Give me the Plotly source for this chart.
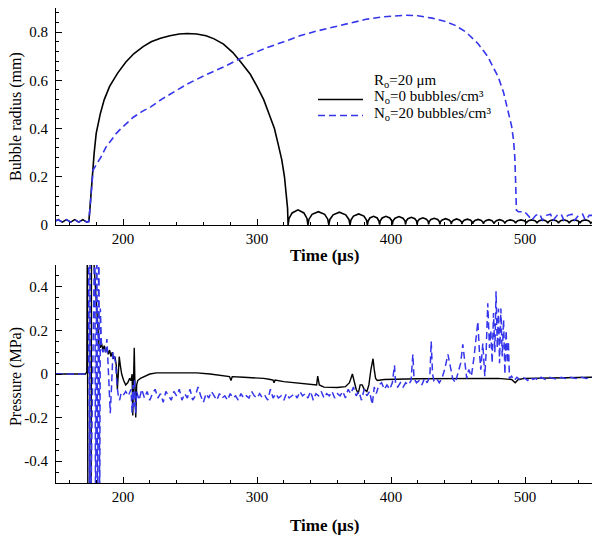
import plotly.graph_objects as go

# ---------------- data ----------------
# Top panel: bubble radius (mm) vs time (us)
t_radius_black = [
    150, 151.6, 154.7, 157.8, 160.9, 164, 167, 170, 173, 174.5,
    175.2, 176, 177, 178.5, 180, 183, 186, 190, 196, 202,
    208, 215, 221, 228, 235, 242, 248, 255, 262, 268,
    275, 282, 288, 295, 300, 305, 309, 313, 316, 318.5,
    320.5, 322, 322.8, 323.2,
    323.9, 326.2, 330.6, 335, 337.3, 338,
    338.8, 341.1, 345.8, 350.5, 352.8, 353.6,
    354.4, 356.8, 361.5, 366.2, 368.6, 369.4,
    370.1, 372, 375.9, 379.8, 381.7, 382.4,
    382.9, 384.2, 387, 389.7, 391, 391.5,
    392, 393.4, 396.2, 399.1, 400.5, 401,
    401.5, 403, 406, 408.9, 410.4, 410.9,
    411.3, 412.6, 415.2, 417.8, 419.1, 419.5,
    419.9, 421.2, 423.8, 426.4, 427.7, 428.1,
    428.5, 429.8, 432.3, 434.8, 436.1, 436.5,
    436.9, 438.2, 440.8, 443.3, 444.6, 445,
    445.4, 446.6, 449, 451.4, 452.6, 453,
    453.4, 454.6, 457, 459.4, 460.6, 461,
    461.4, 462.6, 465, 467.4, 468.6, 469,
    469.4, 470.6, 473, 475.4, 476.6, 477,
    477.4, 478.6, 481, 483.4, 484.6, 485,
    485.4, 486.6, 489, 491.4, 492.6, 493,
    493.4, 494.6, 497, 499.4, 500.6, 501,
    501.4, 502.6, 505, 507.4, 508.6, 509,
    509.4, 510.6, 513, 515.4, 516.6, 517,
    517.4, 518.6, 521, 523.4, 524.6, 525,
    525.4, 526.6, 529, 531.4, 532.6, 533,
    533.4, 534.6, 537, 539.4, 540.6, 541,
    541.4, 542.6, 545, 547.4, 548.6, 549, 550,
]
radius_black = [
    .017, .022, .012, .022, .012, .022, .012, .022, .012, .015,
    .06, .13, .2, .3, .38, .46, .52, .575, .63, .675,
    .71, .74, .76, .775, .785, .792, .794, .792, .785, .772,
    .75, .715, .675, .625, .575, .52, .46, .4, .33, .27,
    .2, .13, .07, 0,
    .027, .05, .063, .05, .027, 0,
    .024, .044, .055, .044, .024, 0,
    .023, .042, .053, .042, .023, 0,
    .02, .037, .046, .037, .02, 0,
    .016, .029, .036, .029, .016, .002,
    .017, .029, .036, .029, .017, .002,
    .017, .028, .035, .028, .017, .002,
    .016, .026, .032, .026, .016, .002,
    .015, .024, .03, .024, .015, .003,
    .014, .023, .028, .023, .014, .003,
    .014, .021, .026, .021, .014, .004,
    .013, .02, .025, .02, .013, .004,
    .013, .02, .024, .02, .013, .005,
    .012, .019, .023, .019, .012, .005,
    .012, .018, .022, .018, .012, .006,
    .012, .018, .022, .018, .012, .006,
    .012, .018, .021, .018, .012, .007,
    .012, .018, .021, .018, .012, .007,
    .012, .018, .021, .018, .012, .007,
    .012, .018, .021, .018, .012, .007,
    .012, .018, .021, .018, .012, .007,
    .012, .018, .021, .018, .012, .007,
    .012, .018, .021, .018, .012, .007,
    .012, .018, .021, .018, .012, .007, .012,
]

t_radius_blue = [
    150, 151.6, 154.7, 157.8, 160.9, 164, 167, 170, 173, 174.5,
    175.5, 176.5, 177.7, 180, 183.7, 187, 191, 195, 198.5, 203,
    207.7, 214, 220.7, 229, 237.8, 248, 262.7, 275, 285.5, 296,
    307, 320, 332, 345, 356.5, 368, 381.3, 395, 410.9, 420,
    430.6, 440, 447.9, 456, 465, 472, 480, 484, 487.4, 490,
    491.5, 492.4, 493, 493.6, 495, 499.8, 503, 505, 508, 511,
    513, 516, 519, 521, 524, 527, 529, 532, 535, 537,
    540, 543, 545, 548, 550,
]
radius_blue = [
    .017, .022, .012, .022, .012, .022, .012, .022, .012, .014,
    .08, .16, .228, .25, .283, .32, .352, .38, .40, .425,
    .447, .47, .49, .522, .552, .585, .625, .655, .685, .71,
    .735, .76, .785, .805, .82, .837, .853, .864, .87, .868,
    .858, .845, .828, .8, .752, .7, .614, .55, .476, .41,
    .35, .28, .18, .062, .055, .055, .035, .02, .04, .045,
    .02, .04, .045, .02, .04, .045, .02, .04, .045, .02,
    .04, .045, .02, .04, .04,
]

# Bottom panel: pressure (MPa) vs time (us)
t_pressure_black = [
    150, 172, 173, 173.4, 173.8, 176.2, 176.5, 177.2, 178.6, 180.3,
    181.2, 182, 183, 184, 185, 186, 187, 188, 189, 190,
    191, 192, 193, 194, 195, 195.8, 196.5, 197.2, 198, 199,
    200.5, 202, 203.5, 205, 206, 206.8, 207.3, 207.8, 208.4, 208.9,
    209.5, 210.2, 211, 213, 216, 220, 225, 240, 255, 265,
    275, 279.5, 280.6, 281.5, 290, 300, 305, 310, 312, 312.7,
    313.5, 320, 330, 340, 344.5, 345.3, 346.5, 350, 360, 366,
    369, 371.2, 372.5, 374, 375.5, 377, 378.5, 380, 382, 383.5,
    385, 386.6, 387.5, 388.5, 389.8, 395, 420, 450, 480, 490,
    492.7, 495, 500, 520, 550,
]
pressure_black = [
    0, 0, .01, .7, -.7, -.7, .7, .7, .48, .3,
    .18, .14, .12, .14, .11, .13, .1, .12, .09, .11,
    .08, .1, .07, .08, .04, -.07, 0, .08, .04, 0,
    -.03, -.05, -.04, -.02, -.03, 0, -.19, .02, .12, -.05,
    -.2, -.05, -.03, -.02, -.01, 0, .005, .006, .005, 0,
    -.008, -.012, -.03, -.012, -.015, -.018, -.02, -.025, -.028, -.04,
    -.028, -.035, -.042, -.05, -.05, -.01, -.05, -.06, -.062, -.058,
    -.04, 0, -.04, -.07, -.09, -.05, -.05, -.07, -.08, -.05,
    .02, .07, .02, -.02, -.03, -.025, -.022, -.02, -.02, -.025,
    -.04, -.025, -.02, -.018, -.015,
]

t_pressure_blue = [
    150, 172, 174.3, 174.5, 175, 175.4, 175.8, 179, 179.5, 180.5,
    181, 182, 182.6, 183.1, 184, 185, 186, 187, 188, 189.2,
    190.5, 191.5, 192.5, 193.5, 194.5, 195.5, 196.5, 197.5, 198.5, 200,
    202, 204, 206, 206.8, 207.5, 208, 208.6, 209.4, 210.2, 212,
    214, 216, 218, 220, 222, 224, 226, 228, 230, 232,
    234, 236, 238, 240, 242, 244, 246, 248, 250, 252,
    254, 256, 258, 260, 262, 264, 266, 268, 270, 272,
    274, 276, 278, 280, 282, 284, 286, 288, 290, 292,
    294, 296, 298, 300, 302, 304, 306, 308, 310, 312,
    314, 316, 318, 320, 322, 324, 326, 328, 330, 332,
    334, 336, 338, 340, 342, 344, 346, 348, 350, 352,
    354, 356, 358, 360, 362, 364, 366, 368, 370, 372,
    374, 376, 378, 380, 382, 384, 386, 387.5, 389, 391,
    393, 395, 397, 399, 401, 402.6, 403.5, 405, 407, 409,
    411, 413, 415, 416.3, 417.2, 419, 421, 423, 425, 427,
    429, 430, 431, 432, 434, 436, 438, 440, 442.5, 444,
    446, 448, 450, 452, 453.6, 455, 456.5, 458, 460, 462,
    464.8, 466, 467, 468.5, 470, 471, 472.2, 473.5, 474.5, 475.5,
    476.5, 477.5, 478.4, 479.3, 480.2, 481, 482, 483, 484, 485,
    485.9, 486.8, 487.6, 488.4, 490, 492, 494, 496, 498, 500,
    502, 504, 506, 508, 510, 512, 515, 518, 521, 524,
    527, 530, 534, 538, 542, 546, 550,
]
pressure_blue = [
    0, 0, 0, .7, -.7, .7, -.7, .7, -.7, .7,
    -.7, .7, -.7, .3, .12, .1, .12, .1, .16, 0,
    -.18, -.05, .1, .08, .05, -.05, -.1, -.12, -.09, -.1,
    -.08, -.1, -.07, -.18, -.05, -.15, -.02, -.18, -.08, -.12,
    -.07, -.11, -.08, -.12, -.09, -.07, -.11, -.09, -.13, -.08,
    -.1, -.12, -.08, -.1, -.07, -.12, -.09, -.11, -.07, -.12,
    -.1, -.06, -.1, -.13, -.09, -.11, -.08, -.1, -.12, -.09,
    -.11, -.1, -.12, -.09, -.11, -.1, -.12, -.09, -.11, -.1,
    -.11, -.08, -.1, -.11, -.09, -.11, -.1, -.12, -.07, -.11,
    -.09, -.11, -.1, -.12, -.09, -.11, -.1, -.09, -.11, -.08,
    -.1, -.09, -.11, -.08, -.12, -.09, -.1, -.08, -.11, -.09,
    -.1, -.08, -.11, -.09, -.1, -.08, -.11, -.07, -.09, -.06,
    -.1, -.08, -.12, -.07, -.1, -.08, -.14, -.06, -.09, -.05,
    -.04, -.07, -.05, -.07, -.04, .04, -.05, -.06, -.04, -.06,
    -.04, -.05, -.03, .09, -.02, -.04, -.03, -.05, -.02, -.04,
    -.01, .15, 0, -.03, -.02, -.04, -.02, .02, .09, .04,
    -.02, -.04, 0, .05, .136, .06, -.02, .02, -.01, .08,
    .24, .1, .02, .14, -.01, .1, .325, .12, .2, .05,
    .28, .1, .38, .12, .3, .05, .3, .08, .25, 0,
    .2, .05, .15, -.02, -.01, -.03, -.015, -.025, -.015, -.02,
    -.03, -.015, -.025, -.02, -.03, -.015, -.025, -.015, -.02, -.025,
    -.015, -.02, -.015, -.02, -.015, -.02, -.015,
]

x_tick_vals = [200, 300, 400, 500]
x_tick_text = ["200", "300", "400", "500"]
radius_tick_vals = [0, 0.2, 0.4, 0.6, 0.8]
radius_tick_text = ["0", "0.2", "0.4", "0.6", "0.8"]
pressure_tick_vals = [-0.4, -0.2, 0, 0.2, 0.4]
pressure_tick_text = ["-0.4", "-0.2", "0", "0.2", "0.4"]

series_names = ["N<sub>o</sub>=0 bubbles/cm³", "N<sub>o</sub>=20 bubbles/cm³"]
legend_heading = "R<sub>o</sub>=20 μm"

# ---------------- styling ----------------
FONT = "Liberation Serif"
BLUE = "#3535ec"
DASH = "7px,4px"

fig = go.Figure()
fig.add_trace(go.Scatter(x=t_radius_black, y=radius_black, mode="lines",
                         line=dict(color="black", width=1.6),
                         name=series_names[0], xaxis="x", yaxis="y"))
fig.add_trace(go.Scatter(x=t_radius_blue, y=radius_blue, mode="lines",
                         line=dict(color=BLUE, width=1.6, dash=DASH),
                         name=series_names[1], xaxis="x", yaxis="y"))
fig.add_trace(go.Scatter(x=t_pressure_black, y=pressure_black, mode="lines",
                         line=dict(color="black", width=1.4),
                         name=series_names[0], xaxis="x2", yaxis="y2"))
fig.add_trace(go.Scatter(x=t_pressure_blue, y=pressure_blue, mode="lines",
                         line=dict(color=BLUE, width=1.5, dash=DASH),
                         name=series_names[1], xaxis="x2", yaxis="y2"))

axis_common = dict(showline=True, linecolor="black", linewidth=1, mirror=False,
                   ticks="inside", ticklen=6, tickcolor="black", tickwidth=1,
                   showgrid=False, zeroline=False,
                   tickfont=dict(family=FONT, size=15, color="black"))

# page has an 8px body margin, so the figure is 8px smaller than the window
fig.update_layout(
    width=593, height=531,
    margin=dict(l=48, r=9, t=0, b=56),
    paper_bgcolor="white", plot_bgcolor="white",
    font=dict(family=FONT, color="black"),
    showlegend=False,
    xaxis=dict(axis_common, domain=[0, 1], range=[150, 550], anchor="y",
               tickvals=x_tick_vals, ticktext=x_tick_text,
               minor=dict(dtick=20, tick0=0, ticks="inside", ticklen=3, tickcolor="black")),
    yaxis=dict(axis_common, domain=[0.5432, 1], range=[0, 0.9], anchor="x",
               tickvals=radius_tick_vals, ticktext=radius_tick_text, ticklabelstandoff=4,
               minor=dict(dtick=0.04, tick0=0, ticks="inside", ticklen=3, tickcolor="black")),
    xaxis2=dict(axis_common, domain=[0, 1], range=[150, 550], anchor="y2",
                tickvals=x_tick_vals, ticktext=x_tick_text,
                minor=dict(dtick=20, tick0=0, ticks="inside", ticklen=3, tickcolor="black")),
    yaxis2=dict(axis_common, domain=[0, 0.4589], range=[-0.5, 0.5], anchor="x2",
                tickvals=pressure_tick_vals, ticktext=pressure_tick_text, ticklabelstandoff=4,
                minor=dict(dtick=0.05, tick0=0, ticks="inside", ticklen=3, tickcolor="black")),
)

leg_font = dict(family=FONT, size=15, color="black")
annotations = [
    dict(text=legend_heading, x=0.5896, y=0.8455, xref="paper", yref="paper",
         xanchor="left", yanchor="middle", showarrow=False, font=leg_font),
    dict(text=series_names[0], x=0.5896, y=0.8116, xref="paper", yref="paper",
         xanchor="left", yanchor="middle", showarrow=False, font=leg_font),
    dict(text=series_names[1], x=0.5896, y=0.7775, xref="paper", yref="paper",
         xanchor="left", yanchor="middle", showarrow=False, font=leg_font),
    dict(text="<b>Time (μs)</b>", x=0.5, y=0.478, xref="paper", yref="paper",
         xanchor="center", yanchor="middle", showarrow=False,
         font=dict(family=FONT, size=17, color="black")),
    dict(text="<b>Time (μs)</b>", x=0.5, y=-0.0905, xref="paper", yref="paper",
         xanchor="center", yanchor="middle", showarrow=False,
         font=dict(family=FONT, size=17, color="black")),
    dict(text="Bubble radius (mm)", x=-0.0746, y=0.7705, xref="paper", yref="paper",
         xanchor="center", yanchor="middle", textangle=-90, showarrow=False,
         font=dict(family=FONT, size=16, color="black")),
    dict(text="Pressure (MPa)", x=-0.0746, y=0.223, xref="paper", yref="paper",
         xanchor="center", yanchor="middle", textangle=-90, showarrow=False,
         font=dict(family=FONT, size=16, color="black")),
]
# legend key lines
shapes = [
    dict(type="line", xref="paper", yref="paper", x0=0.4888, x1=0.5728, y0=0.8074, y1=0.8074,
         line=dict(color="black", width=1.6)),
    dict(type="line", xref="paper", yref="paper", x0=0.4888, x1=0.5728, y0=0.7737, y1=0.7737,
         line=dict(color=BLUE, width=1.6, dash=DASH)),
]
fig.update_layout(annotations=annotations, shapes=shapes)

fig.write_html("out.html")
